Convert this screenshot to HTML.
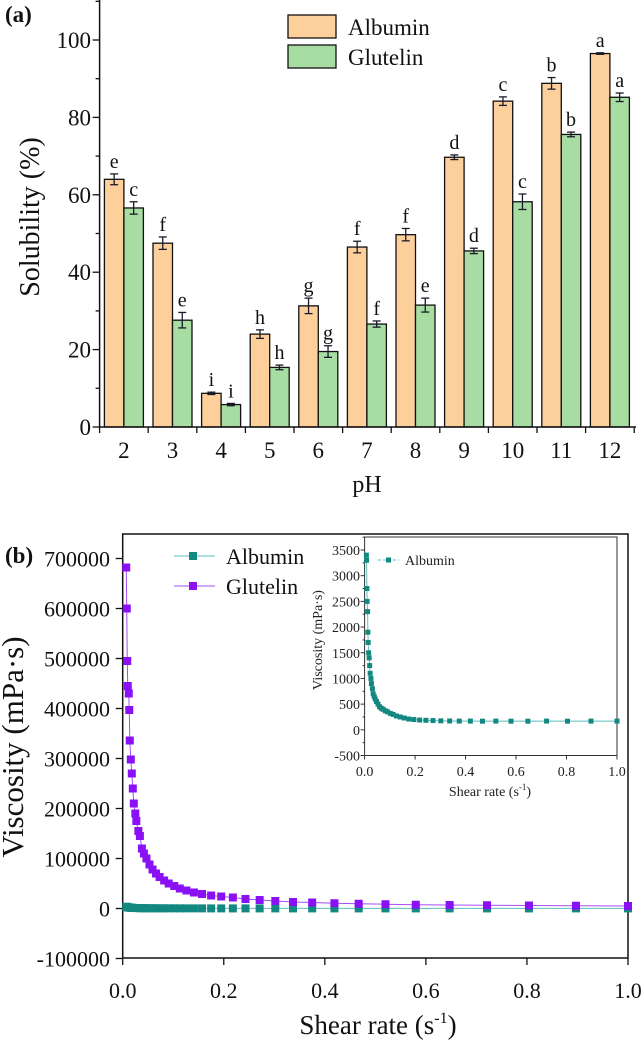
<!DOCTYPE html>
<html><head><meta charset="utf-8"><style>
html,body{margin:0;padding:0;background:#fff}
svg{display:block;font-family:"Liberation Serif",serif}
</style></head><body>
<svg id="fig" width="642" height="1050" viewBox="0 0 642 1050" xmlns="http://www.w3.org/2000/svg">
<g id="pa"></g>
<g id="pb"></g>
<g id="pi"></g>
</svg>
<script>
// ---- Panel (a) data ----
const phCategories = ["2","3","4","5","6","7","8","9","10","11","12"];
const albuminSol = [64,47.5,8.7,24,31.3,46.5,49.7,69.7,84.2,88.8,96.5];
const glutelinSol = [56.6,27.6,5.8,15.4,19.5,26.6,31.5,45.5,58.2,75.6,85.2];
const albuminErr = [1.4,1.6,0.3,1.1,2,1.5,1.6,0.6,1.1,1.5,0.2];
const glutelinErr = [1.6,2,0.3,0.6,1.5,0.8,1.8,0.7,2,0.6,1.1];
const albuminLetters = ["e","f","i","h","g","f","f","d","c","b","a"];
const glutelinLetters = ["c","e","i","h","g","f","e","d","c","b","a"];
const solTicks = [0,20,40,60,80,100];
// ---- Panel (b) data ----
const shearRate = [0.007,0.008,0.009,0.010,0.012,0.013,0.014,0.016,0.018,0.020,0.022,0.025,0.027,0.031,0.034,0.038,0.042,0.047,0.053,0.059,0.066,0.073,0.082,0.091,0.102,0.113,0.126,0.141,0.157,0.175,0.195,0.218,0.243,0.271,0.302,0.337,0.375,0.419,0.467,0.520,0.580,0.647,0.721,0.804,0.897,1.000];
const glutelinVisc = [682000,600000,495000,445000,430000,397000,336000,298000,270000,240000,210000,190000,175000,155000,145000,120000,110000,100000,88000,78000,70000,63000,56000,50000,45000,40000,36000,32000,29000,26000,24000,22000,19000,17000,15000,13000,12000,10500,9500,8500,7500,7000,6500,6000,5500,5000];
const albuminVisc = [3400,3300,2750,2500,2300,1900,1700,1500,1400,1250,1100,1000,900,800,700,650,600,550,500,450,420,400,370,350,320,300,270,250,230,210,200,190,185,180,175,172,170,170,168,170,168,168,170,168,170,170];
const viscTicks = [-100000,0,100000,200000,300000,400000,500000,600000,700000];
const shearTicks = [0,0.2,0.4,0.6,0.8,1.0];
const insetYTicks = [-500,0,500,1000,1500,2000,2500,3000,3500];

const NS="http://www.w3.org/2000/svg";
function mk(parent,tag,attrs,text){const e=document.createElementNS(NS,tag);for(const k in attrs)e.setAttribute(k,attrs[k]);if(text!==undefined)e.textContent=text;parent.appendChild(e);return e;}

// ===== Panel A =====
const pa=document.getElementById('pa');
const aX0=99.6, aStep=48.6, aY0=427, aYs=3.87;
const ay=v=>aY0-v*aYs;
const ax=i=>aX0+aStep*(i+0.5);
const bw=19.5;
phCategories.forEach((c,i)=>{
  const cx=ax(i);
  let r=mk(pa,'rect',{x:cx-bw,y:ay(albuminSol[i]),width:bw,height:aY0-ay(albuminSol[i]),fill:'#fdd09b',stroke:'#111','stroke-width':1.3});
  
  
  r=mk(pa,'rect',{x:cx,y:ay(glutelinSol[i]),width:bw,height:aY0-ay(glutelinSol[i]),fill:'#a7dca3',stroke:'#111','stroke-width':1.3});
  
  
  [[cx-bw/2,albuminSol[i],albuminErr[i],albuminLetters[i]],[cx+bw/2,glutelinSol[i],glutelinErr[i],glutelinLetters[i]]].forEach(([x,v,e,l])=>{
    const g=mk(pa,'g',{stroke:'#1a1a2a','stroke-width':1.3});
    
    
    mk(g,'line',{x1:x,x2:x,y1:ay(v-e),y2:ay(v+e)});
    mk(g,'line',{x1:x-4,x2:x+4,y1:ay(v-e),y2:ay(v-e)});
    mk(g,'line',{x1:x-4,x2:x+4,y1:ay(v+e),y2:ay(v+e)});
    const t=mk(pa,'text',{x:x,y:ay(v+e)-6,'font-size':20,'text-anchor':'middle',fill:'#111'},l);
    
    
  });
  const tl=mk(pa,'text',{x:cx,y:458,'font-size':23,'text-anchor':'middle',fill:'#111'},c);
  
  
});
// axes a
mk(pa,'line',{x1:aX0,x2:aX0,y1:0,y2:aY0,stroke:'#111','stroke-width':1.5});
mk(pa,'line',{x1:aX0,x2:636,y1:aY0,y2:aY0,stroke:'#111','stroke-width':1.5});
for(let i=0;i<=11;i++){const x=aX0+aStep*i;mk(pa,'line',{x1:x,x2:x,y1:aY0,y2:aY0+6,stroke:'#111','stroke-width':1.3});}
for(let v=0;v<=110;v+=10){const big=v%20===0;mk(pa,'line',{x1:aX0-(big?7:4),x2:aX0,y1:ay(v),y2:ay(v),stroke:'#111','stroke-width':1.3});}
solTicks.forEach(v=>{const t=mk(pa,'text',{x:91,y:ay(v)+8,'font-size':23,'text-anchor':'end',fill:'#111'},String(v));
  
  });
let t=mk(pa,'text',{x:29,y:217,'font-size':28,'text-anchor':'middle',fill:'#111',transform:'rotate(-90 29 217) translate(0 10)'},'Solubility (%)');

t=mk(pa,'text',{x:367,y:492,'font-size':24,'text-anchor':'middle',fill:'#111'},'pH');

t=mk(pa,'text',{x:5,y:22,'font-size':23,'font-weight':'bold',fill:'#111'},'(a)');

let lg=mk(pa,'g',{});

mk(lg,'rect',{x:288,y:15,width:48,height:23,fill:'#fdd09b',stroke:'#111','stroke-width':1.3});
mk(lg,'rect',{x:288,y:45,width:48,height:23,fill:'#a7dca3',stroke:'#111','stroke-width':1.3});
mk(lg,'text',{x:348,y:35,'font-size':23,fill:'#111'},'Albumin');
mk(lg,'text',{x:348,y:65,'font-size':23,fill:'#111'},'Glutelin');

// ===== Panel B =====
const pb=document.getElementById('pb');
const bX0=122.7,bX1=628,bYz=908.5,bYs=50/100000;
const bx=v=>bX0+v*(bX1-bX0);
const by=v=>bYz-v*bYs;
mk(pb,'rect',{x:bX0,y:534,width:bX1-bX0,height:958-534,fill:'none',stroke:'#111','stroke-width':1.5});
shearTicks.forEach(v=>{mk(pb,'line',{x1:bx(v),x2:bx(v),y1:958,y2:965,stroke:'#111','stroke-width':1.3});
  const tt=mk(pb,'text',{x:bx(v),y:998,'font-size':22,'text-anchor':'middle',fill:'#111'},v.toFixed(1));
  });
viscTicks.forEach(v=>{mk(pb,'line',{x1:bX0-7,x2:bX0,y1:by(v),y2:by(v),stroke:'#111','stroke-width':1.3});
  const tt=mk(pb,'text',{x:110,y:by(v)+8,'font-size':22,'text-anchor':'end',fill:'#111'},String(v));
  });
function series(par,xs,ys,fx,fy,col,lineCol,ms,name){
  const g=mk(par,'g',{});
  
  
  mk(g,'polyline',{points:xs.map((x,i)=>fx(x)+','+fy(ys[i])).join(' '),fill:'none',stroke:lineCol,'stroke-width':1});
  xs.forEach((x,i)=>{const r=mk(g,'rect',{x:fx(x)-ms/2,y:fy(ys[i])-ms/2,width:ms,height:ms,fill:col});
    });
}
series(pb,shearRate,albuminVisc,bx,by,'#128880','#5fbfb8',8,'albumin-series');
series(pb,shearRate,glutelinVisc,bx,by,'#8a10f5','#a64cf5',8,'glutelin-series');
t=mk(pb,'text',{x:12,y:747,'font-size':31,'text-anchor':'middle',fill:'#111',transform:'rotate(-90 12 747) translate(0 11)'},'Viscosity (mPa·s)');

t=mk(pb,'text',{x:378,y:1034,'font-size':27,'text-anchor':'middle',fill:'#111'},'Shear rate (s');

mk(t,'tspan',{'font-size':16,dy:-11},'-1');
mk(t,'tspan',{'font-size':27,dy:11},')');
t=mk(pb,'text',{x:5,y:563,'font-size':23,'font-weight':'bold',fill:'#111'},'(b)');

lg=mk(pb,'g',{});

mk(lg,'line',{x1:174,x2:215,y1:556,y2:556,stroke:'#5fbfb8','stroke-width':1});
mk(lg,'rect',{x:189,y:552,width:8,height:8,fill:'#128880'});
mk(lg,'line',{x1:174,x2:215,y1:586,y2:586,stroke:'#a64cf5','stroke-width':1});
mk(lg,'rect',{x:189,y:582,width:8,height:8,fill:'#8a10f5'});
mk(lg,'text',{x:226,y:564,'font-size':22,fill:'#111'},'Albumin');
mk(lg,'text',{x:226,y:594,'font-size':22,fill:'#111'},'Glutelin');

// ===== Inset =====
const pi=document.getElementById('pi');
const iX0=364.6,iX1=617,iYt=537,iYb=755.5;
const ix=v=>iX0+v*(iX1-iX0);
const iy=v=>iYb-(v+500)*(205.5/4000);
mk(pi,'rect',{x:iX0,y:iYt,width:iX1-iX0,height:iYb-iYt,fill:'#fff',stroke:'#333','stroke-width':1});
shearTicks.forEach(v=>{mk(pi,'line',{x1:ix(v),x2:ix(v),y1:iYb,y2:iYb+4,stroke:'#333'});
  const tt=mk(pi,'text',{x:ix(v),y:776,'font-size':14,'text-anchor':'middle',fill:'#222'},v.toFixed(1));
  });
insetYTicks.forEach(v=>{mk(pi,'line',{x1:iX0-4,x2:iX0,y1:iy(v),y2:iy(v),stroke:'#333'});
  mk(pi,'line',{x1:iX0-2,x2:iX0,y1:iy(v+250),y2:iy(v+250),stroke:'#333'});
  const tt=mk(pi,'text',{x:360,y:iy(v)+5,'font-size':14,'text-anchor':'end',fill:'#222'},String(v));
  });
series(pi,shearRate,albuminVisc,ix,iy,'#128880','#5fbfb8',5,'inset-albumin-series');
t=mk(pi,'text',{x:317,y:640,'font-size':14,'text-anchor':'middle',fill:'#222',transform:'rotate(-90 317 640) translate(0 5)'},'Viscosity (mPa·s)');

t=mk(pi,'text',{x:490,y:796,'font-size':14,'text-anchor':'middle',fill:'#222'},'Shear rate (s');

mk(t,'tspan',{'font-size':9,dy:-6},'-1');
mk(t,'tspan',{'font-size':14,dy:6},')');
lg=mk(pi,'g',{});

mk(lg,'line',{x1:378,x2:399,y1:560,y2:560,stroke:'#5fbfb8','stroke-dasharray':'3 2'});
mk(lg,'rect',{x:386,y:557.5,width:5,height:5,fill:'#128880'});
mk(lg,'text',{x:405,y:565,'font-size':14,fill:'#222'},'Albumin');
</script>
</body></html>
